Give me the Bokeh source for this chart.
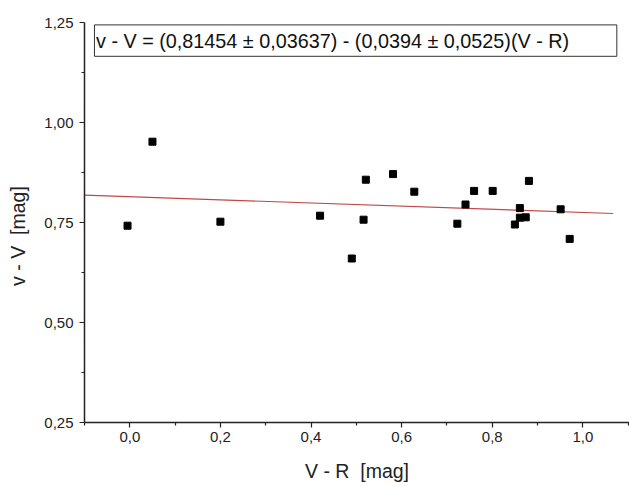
from bokeh.plotting import figure
from bokeh.models import FixedTicker, CustomJSTickFormatter, BoxAnnotation, Label
from bokeh.embed import file_html
from bokeh.resources import INLINE

# data
v_minus_r = [-0.005, 0.05, 0.20, 0.42, 0.49, 0.516, 0.521, 0.581, 0.628, 0.723,
             0.741, 0.760, 0.801, 0.850, 0.861, 0.861, 0.874, 0.881, 0.951, 0.971]
v_minus_V = [0.742, 0.952, 0.752, 0.767, 0.660, 0.757, 0.857, 0.871, 0.827, 0.747,
             0.795, 0.829, 0.829, 0.745, 0.786, 0.762, 0.763, 0.854, 0.783, 0.709]
fit_intercept = 0.81454
fit_slope = -0.0394
fit_x = [-0.1, 1.067]
fit_y = [fit_intercept + fit_slope * x for x in fit_x]

x_major = [0.0, 0.2, 0.4, 0.6, 0.8, 1.0]
x_minor = [-0.1, 0.1, 0.3, 0.5, 0.7, 0.9, 1.1]
y_major = [0.25, 0.50, 0.75, 1.00, 1.25]
y_minor = [0.375, 0.625, 0.875, 1.125]
fit_text = "v - V = (0,81454 \u00b1 0,03637) - (0,0394 \u00b1 0,0525)(V - R)"
x_title = "V - R\u00a0\u00a0[mag]"
y_title = "v - V\u00a0\u00a0[mag]" + "\u00a0" * 5

FONT = "Liberation Sans"

p = figure(width=629, height=487, output_backend="svg", toolbar_location=None,
           x_range=(-0.1, 1.103), y_range=(0.25, 1.25),
           min_border_left=84, min_border_right=0, min_border_top=22,
           min_border_bottom=65)
p.outline_line_color = None
p.grid.visible = False
p.background_fill_color = "white"
p.border_fill_color = "white"

p.line(fit_x, fit_y, line_color="#c04848", line_width=1.2)
p.scatter(v_minus_r, v_minus_V, marker="square", size=7, fill_color="black",
          line_color="black")

box = BoxAnnotation(left=-0.078, right=1.075, bottom=1.1655, top=1.244,
                    fill_color="white", fill_alpha=1.0, line_color="#333333",
                    line_width=1, line_alpha=1.0)
p.add_layout(box)
p.add_layout(Label(x=-0.0745, y=1.2045, text=fit_text, text_baseline="middle",
                   text_align="left", text_font=FONT, text_font_size="19.8px",
                   text_color="#111111"))

for ax in (p.xaxis[0], p.yaxis[0]):
    ax.axis_line_color = "#222222"
    ax.axis_line_width = 1.5
    ax.major_tick_line_color = "#222222"
    ax.minor_tick_line_color = "#222222"
    ax.major_tick_line_width = 1.2
    ax.minor_tick_line_width = 1.2
    ax.major_tick_in = 0
    ax.major_tick_out = 5
    ax.minor_tick_in = 0
    ax.minor_tick_out = 3
    ax.major_label_text_font = FONT
    ax.major_label_text_font_size = "15px"
    ax.major_label_text_color = "#222222"
    ax.axis_label_text_font = FONT
    ax.axis_label_text_font_size = "19.5px"
    ax.axis_label_text_font_style = "normal"
    ax.axis_label_text_color = "#222222"

p.xaxis.ticker = FixedTicker(ticks=x_major, minor_ticks=x_minor)
p.yaxis.ticker = FixedTicker(ticks=y_major, minor_ticks=y_minor)
p.xaxis.formatter = CustomJSTickFormatter(code="return tick.toFixed(1).replace('.', ',');")
p.yaxis.formatter = CustomJSTickFormatter(code="return tick.toFixed(2).replace('.', ',');")
p.xaxis.axis_label = x_title
p.yaxis.axis_label = y_title
p.xaxis.major_label_standoff = 4
p.yaxis.major_label_standoff = 6
p.xaxis.axis_label_standoff = 15
p.yaxis.axis_label_standoff = 12

open("out.html", "w").write(file_html(p, INLINE))
